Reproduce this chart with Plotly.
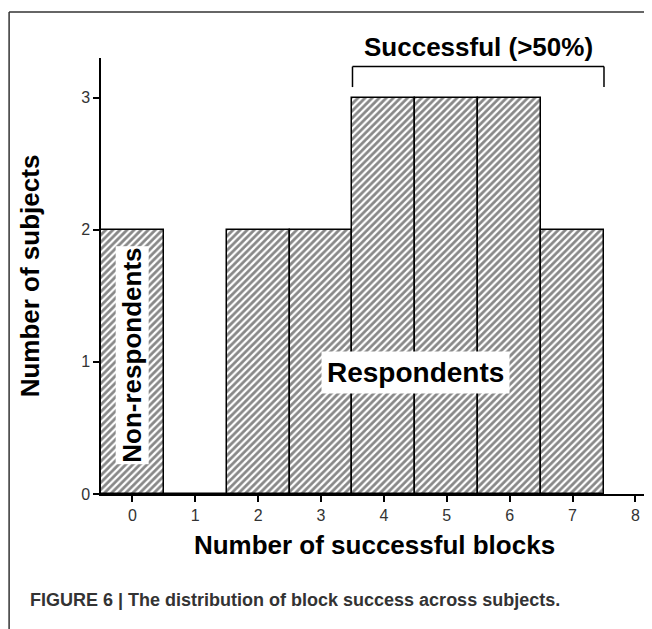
import plotly.graph_objects as go

# data
blocks = [0, 1, 2, 3, 4, 5, 6, 7]
subjects = [2, 0, 2, 2, 3, 3, 3, 2]
x_ticks = [0, 1, 2, 3, 4, 5, 6, 7, 8]
y_ticks = [0, 1, 2, 3]

FONT = "Liberation Sans, Arial, sans-serif"

fig = go.Figure()

fig.add_trace(
    go.Bar(
        x=blocks,
        y=subjects,
        width=1,
        marker={
            "color": "white",
            "line": {"color": "black", "width": 1.5},
            "pattern": {
                "shape": "/",
                "fgcolor": "#111111",
                "bgcolor": "white",
                "size": 5,
                "solidity": 0.55,
            },
        },
        showlegend=False,
        hoverinfo="x+y",
    )
)

# bracket over successful blocks
bracket = {"color": "black", "width": 1.5}
fig.add_shape(type="line", x0=3.5, x1=3.5, y0=3.08, y1=3.235, line=bracket)
fig.add_shape(type="line", x0=3.5, x1=7.5, y0=3.235, y1=3.235, line=bracket)
fig.add_shape(type="line", x0=7.5, x1=7.5, y0=3.08, y1=3.235, line=bracket)

# page frame
frame = {"color": "#333333", "width": 1.5}
fig.add_shape(type="line", xref="paper", yref="paper", x0=-0.168, x1=1.03, y0=1.1055, y1=1.1055, line=frame)
fig.add_shape(type="line", xref="paper", yref="paper", x0=-0.168, x1=-0.168, y0=1.1055, y1=-0.32, line=frame)

fig.add_annotation(x=5.5, y=3.235, text="<b>Successful (>50%)</b>", showarrow=False,
                   yanchor="bottom", yshift=3, font={"family": FONT, "size": 26, "color": "black"})
fig.add_annotation(x=0, y=1.05, text="<b>Non-respondents</b>", showarrow=False, textangle=-90,
                   bgcolor="white", borderpad=1, font={"family": FONT, "size": 26, "color": "black"})
fig.add_annotation(x=4.5, y=0.92, text="<b>Respondents</b>", showarrow=False,
                   bgcolor="white", borderpad=5, font={"family": FONT, "size": 28, "color": "black"})
fig.add_annotation(xref="paper", yref="paper", x=-0.1335, y=-0.243, xanchor="left", yanchor="middle",
                   text="<b>FIGURE 6 | The distribution of block success across subjects.</b>",
                   showarrow=False, font={"family": FONT, "size": 18, "color": "#333333"})

axis_common = {
    "showgrid": False,
    "zeroline": False,
    "showline": True,
    "linecolor": "black",
    "linewidth": 1.5,
    "ticks": "outside",
    "ticklen": 6,
    "tickcolor": "black",
    "tickwidth": 1.5,
    "tickfont": {"family": FONT, "size": 16, "color": "#333333"},
}

fig.update_layout(
    width=644,
    height=621,
    plot_bgcolor="white",
    paper_bgcolor="white",
    margin={"l": 93, "r": 4, "t": 50, "b": 135, "pad": 0},
    bargap=0,
    xaxis={
        **axis_common,
        "range": [-0.5, 8.2],
        "tickvals": x_ticks,
        "title": {"text": "<b>Number of successful blocks</b>", "standoff": 13,
                  "font": {"family": FONT, "size": 26, "color": "black"}},
    },
    yaxis={
        **axis_common,
        "range": [0, 3.3],
        "tickvals": y_ticks,
        "title": {"text": "<b>Number of subjects</b>", "standoff": 34,
                  "font": {"family": FONT, "size": 26, "color": "black"}},
    },
)

fig.write_html("out.html")
